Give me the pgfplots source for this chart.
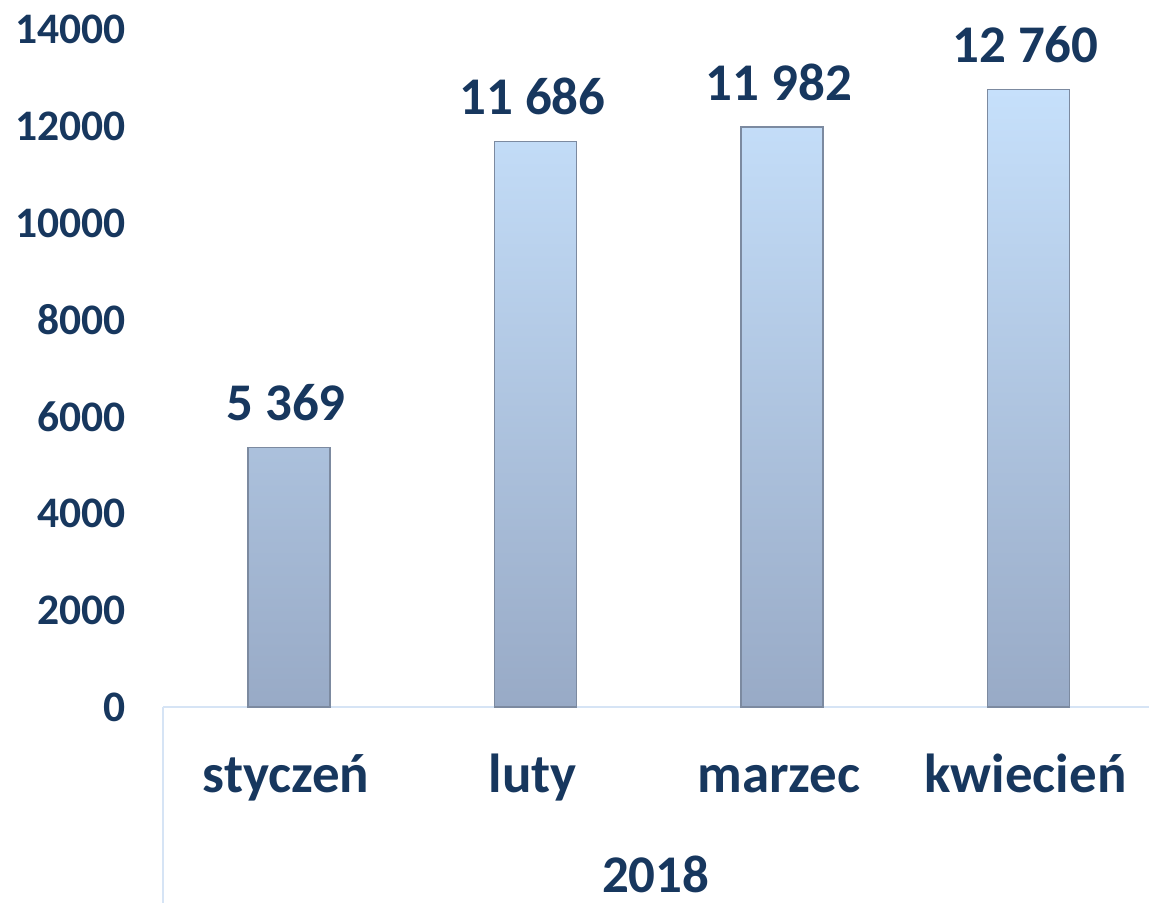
\documentclass[border=0pt]{standalone}
\usepackage{pgfplots}
\pgfplotsset{compat=1.18}
\usepackage{fontspec}
\setmainfont{Carlito}
\definecolor{txt}{HTML}{17375E}
\definecolor{axl}{HTML}{D6E4F5}
\definecolor{bartop}{HTML}{C6E0FB}
\definecolor{barbot}{HTML}{98AAC6}
\definecolor{baredge}{HTML}{7C8AA0}
\begin{document}
\begin{tikzpicture}
\begin{axis}[
  scale only axis,
  width=493.5pt, height=339.25pt,
  xmin=-0.5, xmax=3.5,
  ymin=0, ymax=14000,
  ytick={0,2000,...,14000},
  scaled y ticks=false,
  xtick={0,1,2,3},
  xticklabels={styczeń,luty,marzec,kwiecień},
  axis lines*=left,
  x axis line style={draw=axl, line width=1.2pt},
  y axis line style={draw=none},
  major tick length=0pt,
  clip=false,
  /pgf/number format/assume math mode=true,
  /pgf/number format/1000 sep={},
  yticklabel style={font=\fontsize{21.8}{26}\selectfont\bfseries, text=txt, xshift=-15pt},
  xticklabel style={font=\fontsize{27.5}{31}\selectfont\bfseries, text=txt, anchor=base, yshift=-42.5pt},
  nodes near coords,
  point meta=explicit symbolic,
  every node near coord/.append style={font=\fontsize{26.5}{30}\selectfont\bfseries, text=txt, anchor=base, yshift=13.5pt},
]
\addplot[ybar, bar width=41pt, bar shift=1.5pt, draw=baredge, line width=0.8pt, top color=bartop, bottom color=barbot]
  coordinates {(0,5369) [5 369] (1,11686) [11 686] (2,11982) [11 982] (3,12760) [12 760]};
\draw[axl, line width=1.2pt] (axis cs:-0.5,0) -- ([yshift=-98pt]axis cs:-0.5,0);
\node[anchor=base, font=\fontsize{26.5}{30}\selectfont\bfseries, text=txt] at ([yshift=-92.5pt]axis cs:1.5,0) {2018};
\path ([xshift=-81.5pt,yshift=-98pt]axis cs:-0.5,0) rectangle ([yshift=354pt]axis cs:3.5,0);
\end{axis}
\end{tikzpicture}
\end{document}
